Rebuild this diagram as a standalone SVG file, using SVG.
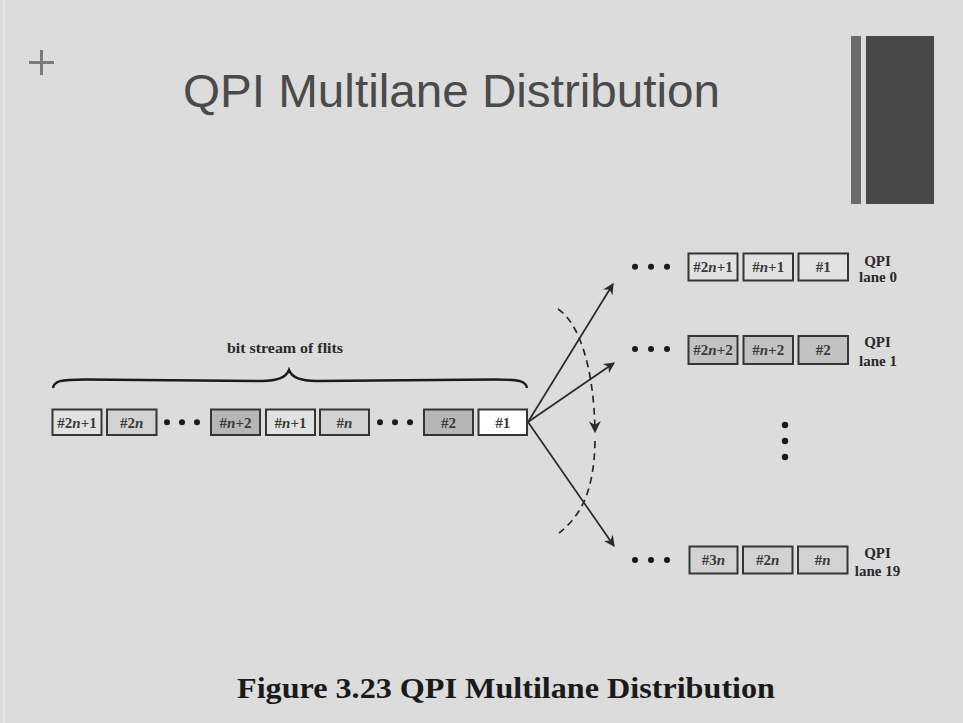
<svg xmlns="http://www.w3.org/2000/svg" width="963" height="723" viewBox="0 0 963 723">
  <defs>
    <style>
      .bg { fill: #dcdcdc; }
      .title { font-family: "Liberation Sans", Arial, sans-serif; font-size: 46px; fill: #4a4a4a; }
      .cap { font-family: "Liberation Serif", "Times New Roman", serif; font-weight: bold; font-size: 30px; fill: #1a1a1a; }
      .lbl { font-family: "Liberation Serif", "Times New Roman", serif; font-weight: bold; font-size: 15px; fill: #2a2a2a; text-anchor: middle; }
      .bx { font-family: "Liberation Serif", "Times New Roman", serif; font-weight: bold; font-size: 15px; fill: #3a3a3a; text-anchor: middle; }
      .it { font-style: italic; }
      .box { stroke: #353535; stroke-width: 2; }
      .w { fill: #ffffff; }
      .l1 { fill: #e2e2e2; }
      .l2 { fill: #d2d2d2; }
      .d { fill: #b6b6b6; }
      .g { fill: #c2c2c2; }
      .dot { fill: #1a1a1a; }
      .arr { stroke: #2a2a2a; stroke-width: 1.7; fill: none; }
      .dash { stroke: #2a2a2a; stroke-width: 1.7; fill: none; stroke-dasharray: 7 5; }
    </style>
    <marker id="ah" viewBox="0 0 10 10" refX="9" refY="5" markerWidth="12" markerHeight="11" orient="auto" markerUnits="userSpaceOnUse">
      <path d="M0,0 L10,5 L0,10 L3,5 Z" fill="#2a2a2a"/>
    </marker>
    <marker id="ahd" viewBox="0 0 10 10" refX="9" refY="5" markerWidth="13" markerHeight="12" orient="auto" markerUnits="userSpaceOnUse">
      <path d="M0,0 L10,5 L0,10 L3,5 Z" fill="#2a2a2a"/>
    </marker>
  </defs>

  <rect class="bg" x="0" y="0" width="963" height="723"/>
  <line x1="4" y1="0" x2="4" y2="723" stroke="#e8e8e8" stroke-width="1.5"/>

  <g id="slide-decor">
    <path d="M29,62.5 H54 M41.5,50 V75" stroke="#7a7a7a" stroke-width="3" fill="none"/>
    <rect x="851" y="36" width="10" height="168" fill="#6a6a6a"/>
    <rect x="866" y="36" width="68" height="168" fill="#484848"/>
  </g>

  <g id="title">
    <text class="title" x="183" y="106.5" textLength="537" lengthAdjust="spacingAndGlyphs">QPI Multilane Distribution</text>
  </g>

  <g id="stream-label">
    <text class="lbl" x="285" y="353" textLength="116" lengthAdjust="spacingAndGlyphs">bit stream of flits</text>
    <path d="M53,388 C54,381 60,379.5 85,379.5 L262,381 C277,381 286,378 289,370 C292,378 301,381 316,381 L495,379.5 C520,379.5 526,381 527,388" stroke="#1a1a1a" stroke-width="2.4" fill="none"/>
  </g>

  <g id="stream">
    <g id="s-2n1"><rect class="box l1" x="52.5" y="409.5" width="49" height="25.5"/><text class="bx" x="77" y="427.5">#2<tspan class="it">n</tspan>+1</text></g>
    <g id="s-2n"><rect class="box l2" x="107" y="409.5" width="49.5" height="25.5"/><text class="bx" x="131.7" y="427.5">#2<tspan class="it">n</tspan></text></g>
    <g id="s-dots1"><circle class="dot" cx="167" cy="422.3" r="3"/><circle class="dot" cx="182" cy="422.3" r="3"/><circle class="dot" cx="197" cy="422.3" r="3"/></g>
    <g id="s-n2"><rect class="box d" x="211" y="409.5" width="49" height="25.5"/><text class="bx" x="235.5" y="427.5">#<tspan class="it">n</tspan>+2</text></g>
    <g id="s-n1"><rect class="box l1" x="266" y="409.5" width="49" height="25.5"/><text class="bx" x="290.5" y="427.5">#<tspan class="it">n</tspan>+1</text></g>
    <g id="s-n"><rect class="box l2" x="320" y="409.5" width="49" height="25.5"/><text class="bx" x="344.5" y="427.5">#<tspan class="it">n</tspan></text></g>
    <g id="s-dots2"><circle class="dot" cx="380" cy="422.3" r="3"/><circle class="dot" cx="395" cy="422.3" r="3"/><circle class="dot" cx="410" cy="422.3" r="3"/></g>
    <g id="s-2"><rect class="box d" x="424" y="409.5" width="49" height="25.5"/><text class="bx" x="448.5" y="427.5">#2</text></g>
    <g id="s-1"><rect class="box w" x="478.5" y="409.5" width="48.5" height="25.5"/><text class="bx" x="502.7" y="427.5">#1</text></g>
  </g>

  <g id="connectors">
    <line class="arr" x1="528" y1="422" x2="613" y2="284" marker-end="url(#ah)"/>
    <line class="arr" x1="528" y1="422" x2="614" y2="363" marker-end="url(#ah)"/>
    <line class="arr" x1="528" y1="422" x2="614" y2="546" marker-end="url(#ah)"/>
    <path class="dash" d="M558,309 C578,322 594,365 595,432" marker-end="url(#ahd)"/>
    <path class="dash" d="M595,441 C594,490 582,515 559,533"/>
  </g>

  <g id="lane0">
    <circle class="dot" cx="635" cy="266.7" r="3"/><circle class="dot" cx="651" cy="266.7" r="3"/><circle class="dot" cx="667" cy="266.7" r="3"/>
    <rect class="box l1" x="688.5" y="253.5" width="49" height="27"/><text class="bx" x="713" y="272">#2<tspan class="it">n</tspan>+1</text>
    <rect class="box l1" x="743.5" y="253.5" width="49.5" height="27"/><text class="bx" x="768.2" y="272">#<tspan class="it">n</tspan>+1</text>
    <rect class="box l1" x="798.5" y="253.5" width="49.5" height="27"/><text class="bx" x="823.2" y="272">#1</text>
    <text class="lbl" x="877.5" y="266.3" font-size="16">QPI</text>
    <text class="lbl" x="878" y="281.5">lane 0</text>
  </g>

  <g id="lane1">
    <circle class="dot" cx="635" cy="349" r="3"/><circle class="dot" cx="651" cy="349" r="3"/><circle class="dot" cx="667" cy="349" r="3"/>
    <rect class="box g" x="688.5" y="336" width="49" height="28"/><text class="bx" x="713" y="355">#2<tspan class="it">n</tspan>+2</text>
    <rect class="box g" x="743.5" y="336" width="49.5" height="28"/><text class="bx" x="768.2" y="355">#<tspan class="it">n</tspan>+2</text>
    <rect class="box g" x="798.5" y="336" width="49.5" height="28"/><text class="bx" x="823.2" y="355">#2</text>
    <text class="lbl" x="877.5" y="346.7">QPI</text>
    <text class="lbl" x="878" y="366">lane 1</text>
  </g>

  <g id="lane-gap">
    <circle class="dot" cx="785" cy="425" r="3.2"/><circle class="dot" cx="785" cy="441" r="3.2"/><circle class="dot" cx="785" cy="457" r="3.2"/>
  </g>

  <g id="lane19">
    <circle class="dot" cx="635" cy="560" r="3"/><circle class="dot" cx="651" cy="560" r="3"/><circle class="dot" cx="667" cy="560" r="3"/>
    <rect class="box l2" x="689.5" y="546.5" width="48" height="27"/><text class="bx" x="713.5" y="565">#3<tspan class="it">n</tspan></text>
    <rect class="box l2" x="743" y="546.5" width="49.5" height="27"/><text class="bx" x="767.7" y="565">#2<tspan class="it">n</tspan></text>
    <rect class="box l2" x="798" y="546.5" width="49.5" height="27"/><text class="bx" x="822.7" y="565">#<tspan class="it">n</tspan></text>
    <text class="lbl" x="877.5" y="557.7">QPI</text>
    <text class="lbl" x="877.5" y="576">lane 19</text>
  </g>

  <g id="caption">
    <text class="cap" x="237" y="697.5" textLength="538" lengthAdjust="spacingAndGlyphs">Figure 3.23 QPI Multilane Distribution</text>
  </g>
</svg>
